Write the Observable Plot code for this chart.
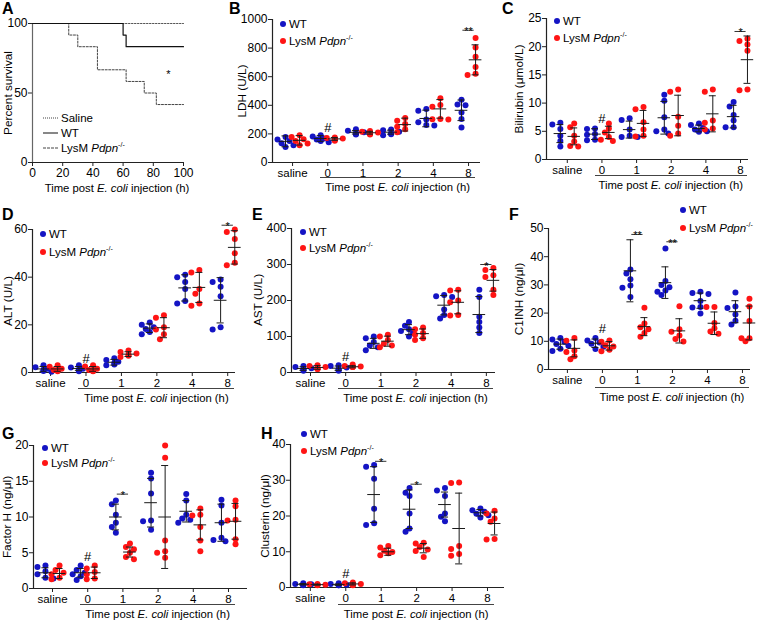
<!DOCTYPE html>
<html><head><meta charset="utf-8">
<script src="https://cdn.jsdelivr.net/npm/d3@7"></script>
<script src="https://cdn.jsdelivr.net/npm/@observablehq/plot@0.6"></script>
<style>
body{margin:0;background:#fff;font-family:"Liberation Sans",Arial,sans-serif;color:#000;}
#fig{position:relative;width:762px;height:620px;overflow:hidden;}
#fig svg{position:absolute;overflow:visible;}
.plabel{position:absolute;font-weight:bold;font-size:16px;line-height:16px;}
.ytitle{position:absolute;font-size:11.8px;line-height:12px;transform:translate(-50%,-50%) rotate(-90deg);white-space:nowrap;}
.xtitle{position:absolute;font-size:11.3px;line-height:12px;transform:translate(-50%,-50%);white-space:nowrap;}
.bracket{position:absolute;border-top:1px solid #444;height:0;}
.leg{position:absolute;font-size:11.5px;line-height:12px;white-space:nowrap;transform:translateY(-50%);}
.leg sup{font-size:7px;vertical-align:5px;line-height:0;}
.dot{position:absolute;width:6px;height:6px;border-radius:50%;transform:translate(-50%,-50%);}
.ln{position:absolute;width:15px;height:0;transform:translateY(-50%);}
</style></head>
<body><div id="fig"></div>
<script>
// ---------- DATA ----------
const categories = ["saline", "0", "1", "2", "4", "8"];

// A: survival (Kaplan-Meier steps)
const salineT = [0, 100], salineS = [100, 100];
const wtT = [0, 60, 62, 100], wtS = [100, 91.7, 83.3, 83.3];
const koT = [0, 24, 30, 43, 62, 74, 82, 100], koS = [100, 91.7, 83.3, 66.7, 58.3, 50, 41.7, 41.7];

// B: LDH (U/L)
const ldhWT = [[178,160,150,135,120,108],[190,182,168,160,150,142],[232,222,212,205,200,195],[230,225,215,205,198,190],[375,362,300,282,262,258],[438,405,400,350,305,245]];
const ldhKO = [[190,178,162,150,132,120],[175,172,168,162,158,152],[220,215,210,205,200,195],[312,292,270,250,232,212],[450,402,390,305,302,300],[870,805,740,668,620,612]];
const ldhWTmean = [148,168,211,212,308,365], ldhWTsd = [38,20,12,14,58,72];
const ldhKOmean = [155,165,208,265,375,718], ldhKOsd = [33,10,10,45,65,105];

// C: Bilirubin (umol/L)
const bilWT = [[6.5,6.2,5.4,4.2,3.3,2.3],[5.5,5.4,4.5,4.4,3.5,3.4],[7.3,7.0,5.3,4.2,4.0,4.0],[11.5,10.4,7.5,5.3,5.0,4.6],[6.4,6.1,5.6,5.3,5.0,4.9],[10.2,9.4,7.9,6.9,5.7,5.7]];
const bilKO = [[6.4,5.7,4.2,3.2,2.4,2.3],[6.4,5.5,4.8,4.0,3.5,3.3],[9.3,8.9,6.6,5.3,4.2,4.1],[12.4,12.0,7.6,6.0,4.6,4.2],[12.4,12.0,6.9,6.5,5.5,5.3],[21.4,21.0,20.4,19.3,12.4,12.3]];
const bilWTmean = [4.6,4.5,5.3,7.4,5.5,7.6], bilWTsd = [1.6,0.95,1.5,2.9,0.6,2.0];
const bilKOmean = [4.1,4.8,6.4,7.8,8.1,17.7], bilKOsd = [1.5,1.1,2.3,3.6,3.2,4.2];

// D: ALT (U/L)
const altWT = [[3,2.2,1.6,1.0,0.6,0.3],[3,2.1,1.6,1.2,1.0,0.5],[6,5.2,4.5,4.0,3.4,3.0],[21,20,19,18.3,17,16],[41,40,38,35,30,29],[39,38,36,32,19,18]];
const altKO = [[3,2.4,1.6,1.0,0.8,0.5],[3,2.5,1.6,1.0,0.6,0.5],[9.2,8.6,8.0,7.5,7.0,6.5],[24,23,19,18,16,14],[43,42,35,33,29,28],[60,59,56,50,46,45]];
const altWTmean = [1.5,1.7,4.3,18.6,35.5,30.3], altWTsd = [1.0,0.8,1.2,1.8,5.5,9.5];
const altKOmean = [1.5,1.5,7.7,18.8,35.7,52.5], altKOsd = [1.0,1.0,1.0,4.2,6.3,7];

// E: AST (U/L)
const astWT = [[18,15,12,10,8,5],[20,18,14,10,7,5],[100,95,85,75,70,62],[140,130,120,115,110,100],[215,212,210,175,160,150],[230,210,155,140,125,110]];
const astKO = [[20,18,15,12,10,10],[22,18,17,15,15,15],[105,100,90,80,75,70],[125,120,110,105,95,90],[230,228,200,195,160,158],[290,285,270,265,230,215]];
const astWTmean = [11,12,81,119,187,161], astWTsd = [5,6,14,14,27,50];
const astKOmean = [14,16,87,108,195,256], astKOsd = [5,3,14,13,32,30];

// F: C1INH (ng/ul)
const c1WT = [[11.2,10.6,9.8,9.0,8.4,7.4,6.6],[11.2,10.3,9.6,9.1,8.1,7.3],[35.5,34.0,32.0,29.8,29.0,25.7],[42.9,31.4,30.0,29.2,28.0,27.6,26.4],[27.6,27.1,26.8,24.3,22.2,22.0,19.9],[27.3,22.3,21.8,19.5,17.3,16.0]];
const c1KO = [[11.2,10.2,6.7,6.2,4.7,3.6],[10.3,9.8,8.6,8.2,7.0,6.5],[21.9,16.3,15.0,14.3,12.9,11.6],[22.4,14.3,13.4,12.1,10.8,9.9],[22.2,22.2,16.5,14.6,13.5,12.7],[25.1,22.3,17.2,11.1,11.1,10.0]];
const c1WTmean = [9,9.3,35,30.8,24.4,20.5], c1WTsd = [1.8,1.5,11,5.6,2.7,3.9];
const c1KOmean = [7.5,8.4,15.2,13.7,16.4,16.5], c1KOsd = [3,1.5,3.2,4.3,4,6];

// G: Factor H (ng/ul)
const fhWT = [[3.2,3.0,2.4,2.0,1.5,1.4],[3.2,2.6,2.2,2.0,1.7,1.2],[12.3,11.8,10.3,9.2,8.6,7.8],[16.2,15.4,13.3,9.5,9.4,8.2],[13.2,12.3,10.3,9.8,9.6,9.2],[12.4,11.6,9.2,7.1,6.8,6.6]];
const fhKO = [[3.2,2.6,2.2,2.0,1.5,1.3],[3.2,2.8,2.3,2.0,1.4,1.3],[6.3,5.8,5.5,5.0,4.4,4.1],[20,18.3,6.7,5.2,5.0,4.3],[11.2,10.3,10.2,8.6,6.7,5.2],[12.3,11.5,9.6,9.5,6.9,6.2]];
const fhWTmean = [2.2,2.2,10,12,10.8,9.2], fhWTsd = [0.7,0.6,1.8,3.4,1.5,2.6];
const fhKOmean = [2.1,2.2,5.1,10,8.9,9.4], fhKOsd = [0.7,0.8,0.7,7.2,2.1,2.5];

// H: Clusterin (ng/ul)
const cluWT = [[1.2,1.0,0.9,0.8,0.7,0.6],[1.2,1.0,0.8,0.7,0.6,0.6],[34.3,33.8,30.4,22.0,18.0,17.5],[27.8,26.5,25.6,20.7,16.5,15.6],[27.8,27.1,25.6,20.7,19.8,18.5],[22.1,21.6,21.2,20.6,20.2,19.6]];
const cluKO = [[1.0,0.9,0.8,0.8,0.7,0.6],[1.4,1.2,1.0,0.8,0.7,0.6],[11.6,11.2,10.3,9.9,9.6,9.0],[12.5,12.3,11.3,10.6,10.2,8.5],[29.4,29.2,11.6,10.8,9.4,8.9],[21.5,20.7,19.3,18.4,13.6,13.4]];
const cluWTmean = [0.9,0.8,26,21.9,23.2,20.9], cluWTsd = [0.2,0.2,7.8,5.4,3.5,0.9];
const cluKOmean = [0.8,1.0,10,11,16.5,17.9], cluKOsd = [0.15,0.3,1.0,1.3,9.9,3.2];

// significance annotations: [category index, value, label]
const ldhSig = [[5, 925, "**"]], bilSig = [[5, 22.7, "*"]], altSig = [[5, 61.8, "*"]], astSig = [[5, 300, "*"]];
const c1Sig = [[2, 47.9, "**"], [3, 45.3, "**"]], fhSig = [[2, 13.2, "*"]], cluSig = [[2, 35.3, "*"], [3, 28.9, "*"]];
// "#" annotation value at 0 h
const ldhHash = 245, bilHash = 7.2, altHash = 5.6, astHash = 44, c1Hash = 14.5, fhHash = 4.4, cluHash = 3.8;

// ---------- DRAWING ----------
const blue = "#1414c4", red = "#ff1414", barColor = "#1a1a1a", axisColor = "#222";
const fig = document.getElementById("fig");
const legKO = 'LysM <i>Pdpn</i><sup>-/-</sup>';
const xTitleHTML = 'Time post <i>E. coli</i> injection (h)';
const font = '"Liberation Sans", Arial, sans-serif';

function div(cls, html, x, y, style) {
  const d = document.createElement("div");
  d.className = cls; d.innerHTML = html || "";
  d.style.left = x + "px"; d.style.top = y + "px";
  if (style) Object.assign(d.style, style);
  fig.appendChild(d); return d;
}

function swarm(vals, pxY, pxX) {
  const order = vals.map((v, i) => i).sort((a, b) => vals[b] - vals[a]);
  const offs = new Array(vals.length).fill(0), placed = [];
  const step = 4;
  for (const i of order) {
    const yp = vals[i] * pxY;
    let chosen = null;
    for (const o of [0, -step, step, -2 * step, 2 * step]) {
      if (placed.every(p => Math.hypot(p[0] - o, p[1] - yp) >= 5)) { chosen = o; break; }
    }
    if (chosen === null) chosen = 0;
    offs[i] = chosen; placed.push([chosen, yp]);
  }
  return offs.map(o => o / pxX);
}

function catPanel(p) {
  const mL = 42, mR = 12, mT = 14, mB = 24;
  const fw = p.right - p.left, fh = p.bottom - p.top;
  const pxX = fw / (p.xdom[1] - p.xdom[0]), pxY = fh / p.ymax;
  const dWT = [], dKO = [], bars = [];
  categories.forEach((c, i) => {
    [[p.wt, p.wtM, p.wtS, -0.2, dWT], [p.ko, p.koM, p.koS, 0.2, dKO]].forEach(([vals, M, S, off, arr]) => {
      const jit = swarm(vals[i], pxY, pxX);
      vals[i].forEach((v, k) => arr.push({x: i + off + jit[k], v}));
      bars.push({x: i + off, m: M[i], lo: M[i] - S[i], hi: M[i] + S[i]});
    });
  });
  const sig = p.sig.map(([c, y, t]) => ({c, y, t}));
  const plot = Plot.plot({
    width: fw + mL + mR, height: fh + mT + mB,
    marginLeft: mL, marginRight: mR, marginTop: mT, marginBottom: mB,
    style: {fontFamily: font, fontSize: "12px", color: "#000", background: "transparent", overflow: "visible"},
    x: {domain: p.xdom},
    y: {domain: [0, p.ymax]},
    marks: [
      Plot.axisY({ticks: p.yticks, tickSize: 4, tickPadding: 1, tickFormat: d => String(d), label: null, fontSize: 12, stroke: axisColor}),
      Plot.axisX({ticks: categories.map((c, i) => i), tickSize: 4, tickPadding: 2, tickFormat: i => categories[i], label: null, fontSize: 11.5, stroke: axisColor}),
      Plot.ruleX([p.xdom[0]], {stroke: axisColor, strokeWidth: 1.2}),
      Plot.ruleY([0], {stroke: axisColor, strokeWidth: 1.2}),
      Plot.dot(dWT, {x: "x", y: "v", r: 3, fill: blue}),
      Plot.dot(dKO, {x: "x", y: "v", r: 3, fill: red}),
      Plot.ruleX(bars, {x: "x", y1: "lo", y2: "hi", stroke: barColor, strokeWidth: 1}),
      Plot.ruleY(bars, {y: "m", x1: d => d.x - 0.18, x2: d => d.x + 0.18, stroke: barColor, strokeWidth: 1}),
      Plot.ruleY(bars, {y: "hi", x1: d => d.x - 0.1, x2: d => d.x + 0.1, stroke: barColor, strokeWidth: 1}),
      Plot.ruleY(bars, {y: "lo", x1: d => d.x - 0.1, x2: d => d.x + 0.1, stroke: barColor, strokeWidth: 1}),
      Plot.ruleY(sig, {y: "y", x1: d => d.c - 0.16, x2: d => d.c + 0.16, stroke: "#333", strokeWidth: 1}),
      Plot.text(sig, {x: "c", y: "y", text: "t", lineAnchor: "bottom", dy: 5, fontSize: 11}),
      Plot.text([p.hash], {x: () => 1, y: d => d, text: () => "#", fontSize: 13})
    ]
  });
  const sx = plot.scale("x");
  const ox = p.left - mL, oy = p.top - mT;
  plot.style.left = ox + "px"; plot.style.top = oy + "px";
  fig.appendChild(plot);
  const bx1 = ox + sx.apply(1 - 0.2), bx2 = ox + sx.apply(5 + 0.2);
  div("bracket", "", bx1, p.bracketY, {width: (bx2 - bx1) + "px"});
  div("xtitle", xTitleHTML, (bx1 + bx2) / 2, p.bracketY + 10);
  div("ytitle", p.ytitle, p.ytitleX, (p.top + p.bottom) / 2);
  div("plabel", p.letter, p.letterX, p.letterY);
  div("dot", "", p.legX, p.legY1, {background: blue});
  div("dot", "", p.legX, p.legY2, {background: red});
  div("leg", "WT", p.legX + 6, p.legY1);
  div("leg", legKO, p.legX + 6, p.legY2);
}

// Panel A
(function () {
  const left = 32, right = 183, top = 23, bottom = 162;
  const mL = 42, mR = 12, mT = 14, mB = 24;
  const rows = (T, S) => T.map((t, i) => ({t, s: S[i]}));
  const plot = Plot.plot({
    width: right - left + mL + mR, height: bottom - top + mT + mB,
    marginLeft: mL, marginRight: mR, marginTop: mT, marginBottom: mB,
    style: {fontFamily: font, fontSize: "12px", color: "#000", background: "transparent", overflow: "visible"},
    x: {domain: [0, 100]},
    y: {domain: [0, 100]},
    marks: [
      Plot.axisY({ticks: [0, 50, 100], tickSize: 4, tickPadding: 1, label: null, fontSize: 12, stroke: axisColor}),
      Plot.axisX({ticks: [0, 20, 40, 60, 80, 100], tickSize: 4, tickPadding: 2, label: null, fontSize: 12, stroke: axisColor}),
      Plot.ruleX([0], {stroke: "#666", strokeWidth: 1.2}),
      Plot.ruleY([0], {stroke: axisColor, strokeWidth: 1.2}),
      Plot.line(rows(salineT, salineS), {x: "t", y: "s", curve: "step-after", stroke: "#555", strokeWidth: 1, strokeDasharray: "1.5,1.5"}),
      Plot.line(rows(koT, koS), {x: "t", y: "s", curve: "step-after", stroke: "#444", strokeWidth: 1, strokeDasharray: "2,1.5"}),
      Plot.line(rows(wtT, wtS), {x: "t", y: "s", curve: "step-after", stroke: "#111", strokeWidth: 1.2}),
      Plot.text(["*"], {x: () => 90, y: () => 63, text: d => d, fontSize: 11})
    ]
  });
  plot.style.left = (left - mL) + "px"; plot.style.top = (top - mT) + "px";
  fig.appendChild(plot);
  div("plabel", "A", 2, 1);
  div("ytitle", "Percent survival", 8, (top + bottom) / 2);
  div("xtitle", xTitleHTML, 117, 188);
  const lx = 43;
  [["Saline", "1.5px dotted #444", 118], ["WT", "1.5px solid #111", 133], [legKO, "1.5px dashed #444", 148]].forEach(([t, b, y]) => {
    div("ln", "", lx, y, {borderTop: b});
    div("leg", t, lx + 18, y);
  });
})();

const panels = [
  {letter: "B", letterX: 229, letterY: 1, left: 272, right: 480, top: 19, bottom: 162, ymax: 1000, yticks: [0, 200, 400, 600, 800, 1000], xdom: [-0.57, 5.34],
   wt: ldhWT, ko: ldhKO, wtM: ldhWTmean, wtS: ldhWTsd, koM: ldhKOmean, koS: ldhKOsd, sig: ldhSig, hash: ldhHash,
   ytitle: "LDH (U/L)", ytitleX: 242, legX: 283, legY1: 24, legY2: 41, bracketY: 177},
  {letter: "C", letterX: 502, letterY: 1, left: 546, right: 748, top: 18, bottom: 159, ymax: 25, yticks: [0, 5, 10, 15, 20, 25], xdom: [-0.6, 5.23],
   wt: bilWT, ko: bilKO, wtM: bilWTmean, wtS: bilWTsd, koM: bilKOmean, koS: bilKOsd, sig: bilSig, hash: bilHash,
   ytitle: "Bilirubin (μmol/L)", ytitleX: 519, legX: 557, legY1: 21, legY2: 38, bracketY: 175},
  {letter: "D", letterX: 2, letterY: 207, left: 32, right: 235, top: 229, bottom: 372, ymax: 60, yticks: [0, 20, 40, 60], xdom: [-0.51, 5.22],
   wt: altWT, ko: altKO, wtM: altWTmean, wtS: altWTsd, koM: altKOmean, koS: altKOsd, sig: altSig, hash: altHash,
   ytitle: "ALT (U/L)", ytitleX: 8, legX: 43, legY1: 234, legY2: 252, bracketY: 388},
  {letter: "E", letterX: 252, letterY: 207, left: 291, right: 495, top: 228, bottom: 372, ymax: 400, yticks: [0, 100, 200, 300, 400], xdom: [-0.54, 5.26],
   wt: astWT, ko: astKO, wtM: astWTmean, wtS: astWTsd, koM: astKOmean, koS: astKOsd, sig: astSig, hash: astHash,
   ytitle: "AST (U/L)", ytitleX: 258, legX: 303, legY1: 232, legY2: 248, bracketY: 388},
  {letter: "F", letterX: 509, letterY: 207, left: 548, right: 750, top: 228, bottom: 369, ymax: 50, yticks: [0, 10, 20, 30, 40, 50], xdom: [-0.54, 5.23],
   wt: c1WT, ko: c1KO, wtM: c1WTmean, wtS: c1WTsd, koM: c1KOmean, koS: c1KOsd, sig: c1Sig, hash: c1Hash,
   ytitle: "C1INH (ng/μl)", ytitleX: 519, legX: 683, legY1: 210, legY2: 228, bracketY: 387},
  {letter: "G", letterX: 2, letterY: 426, left: 33, right: 247, top: 445, bottom: 588, ymax: 20, yticks: [0, 5, 10, 15, 20], xdom: [-0.54, 5.54],
   wt: fhWT, ko: fhKO, wtM: fhWTmean, wtS: fhWTsd, koM: fhKOmean, koS: fhKOsd, sig: fhSig, hash: fhHash,
   ytitle: "Factor H (ng/μl)", ytitleX: 7, legX: 45, legY1: 448, legY2: 463, bracketY: 604},
  {letter: "H", letterX: 261, letterY: 426, left: 290, right: 504, top: 444, bottom: 587, ymax: 40, yticks: [0, 10, 20, 30, 40], xdom: [-0.56, 5.48],
   wt: cluWT, ko: cluKO, wtM: cluWTmean, wtS: cluWTsd, koM: cluKOmean, koS: cluKOsd, sig: cluSig, hash: cluHash,
   ytitle: "Clusterin (ng/μl)", ytitleX: 265, legX: 304, legY1: 434, legY2: 451, bracketY: 604}
];
panels.forEach(catPanel);
</script>
</body></html>
